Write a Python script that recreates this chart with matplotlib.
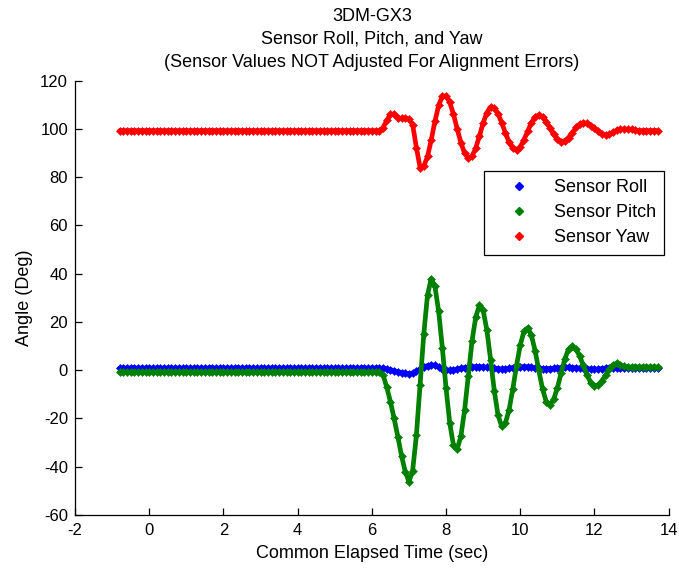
import numpy as np
import matplotlib
matplotlib.use("Agg")
import matplotlib.pyplot as plt

plt.rcParams['font.family'] = ['Liberation Sans', 'DejaVu Sans']
plt.rcParams['axes.unicode_minus'] = False

# Sample times (s), 10 Hz
time_sec = np.round(np.arange(-0.8, 13.71, 0.1), 1)
n_rest = int(np.sum(time_sec <= 6.2))

# Resting attitude before the disturbance (deg)
roll_rest = 0.9
pitch_rest = -0.8
yaw_rest = 99.3

# Attitude from 6.3 s to 13.7 s (deg)
roll_motion = [
    0.8, 0.5, 0.2, -0.2, -0.6, -1.0, -1.3,
    -1.4, -1.2, -0.5, 0.5, 1.3, 1.9, 2.2, 2.0, 1.3, 0.5,
    0.1, 0.0, 0.1, 0.4, 0.8, 1.1, 1.3, 1.4, 1.5, 1.5,
    1.4, 1.2, 1.0, 0.8, 0.6, 0.5, 0.6, 0.8, 1.1, 1.3,
    1.4, 1.5, 1.4, 1.2, 1.0, 0.8, 0.7, 0.6, 0.7, 0.8,
    1.0, 1.1, 1.2, 1.2, 1.1, 1.0, 0.9, 0.8, 0.7, 0.5,
    0.4, 0.5, 0.7, 0.9, 1.0, 1.0, 1.0, 0.9, 0.9, 0.9,
    0.9, 0.9, 0.9, 0.9, 0.9, 0.9, 0.9, 0.9,
]
pitch_motion = [
    -1.8, -7.0, -13.0, -20.0, -27.5, -35.5, -42.0,
    -46.2, -41.6, -27.0, -6.3, 15.0, 31.2, 37.9, 34.8, 24.4, 9.3,
    -7.5, -22.0, -31.1, -32.7, -27.3, -16.5, -2.3, 12.1, 22.1, 26.9,
    24.8, 16.6, 4.4, -8.5, -18.6, -23.3, -21.9, -16.3, -7.7, 2.0,
    10.5, 16.1, 17.5, 14.5, 8.1, -0.1, -7.8, -13.0, -14.3, -12.1,
    -7.3, -1.2, 4.6, 8.7, 10.0, 8.8, 5.9, 2.0, -2.0, -5.1,
    -6.5, -6.1, -4.4, -2.1, 0.5, 2.2, 2.9, 2.2, 1.6, 1.3,
    1.3, 1.3, 1.3, 1.3, 1.3, 1.3, 1.3, 1.3,
]
yaw_motion = [
    100.5, 103.5, 106.0, 106.2, 104.6, 104.4, 104.4,
    104.2, 101.7, 92.3, 84.0, 84.6, 88.6, 95.4, 103.1, 109.8, 113.6,
    113.7, 111.0, 106.1, 100.0, 94.3, 89.9, 87.9, 88.7, 92.1, 97.1,
    102.5, 106.8, 109.1, 108.7, 106.3, 102.6, 98.3, 94.5, 92.0, 91.3,
    92.6, 95.5, 99.1, 102.6, 105.0, 105.8, 105.0, 103.0, 100.4, 97.7,
    95.7, 94.7, 95.1, 96.4, 98.4, 100.6, 102.0, 102.6, 102.3, 101.4,
    100.2, 99.0, 98.0, 97.5, 97.8, 98.6, 99.4, 99.8, 99.9, 99.9,
    99.8, 99.5, 99.3, 99.3, 99.3, 99.3, 99.3, 99.3,
]

roll = np.array([roll_rest] * n_rest + roll_motion)
pitch = np.array([pitch_rest] * n_rest + pitch_motion)
yaw = np.array([yaw_rest] * n_rest + yaw_motion)

series = [
    ("Sensor Roll", roll, (0, 0, 1)),
    ("Sensor Pitch", pitch, (0, 0.5, 0)),
    ("Sensor Yaw", yaw, (1, 0, 0)),
]

fig = plt.figure(figsize=(6.79, 5.69), dpi=100)
ax = fig.add_axes([0.1105, 0.0949, 0.8743, 0.7633])

for label, values, color in series:
    ax.plot(time_sec, values, linestyle='-', linewidth=3.4, color=color,
            solid_capstyle='round', solid_joinstyle='round',
            marker='D', markersize=4.3, markeredgewidth=0.4,
            markeredgecolor=color, markerfacecolor=color, label=label)

ax.set_xlim(-2, 14)
ax.set_ylim(-60, 120)
ax.set_xticks(np.arange(-2, 15, 2))
ax.set_yticks(np.arange(-60, 121, 20))
ax.spines['top'].set_visible(False)
ax.spines['right'].set_visible(False)
for s in ('left', 'bottom'):
    ax.spines[s].set_linewidth(0.9)
ax.tick_params(direction='in', length=5, width=0.9, labelsize=12)
ax.tick_params(axis='x', pad=6)
ax.tick_params(axis='y', pad=5)

ax.set_xlabel("Common Elapsed Time (sec)", fontsize=13, labelpad=5)
ax.set_ylabel("Angle (Deg)", fontsize=13, labelpad=5)
ax.set_title("3DM-GX3\nSensor Roll, Pitch, and Yaw\n"
             "(Sensor Values NOT Adjusted For Alignment Errors)",
             fontsize=13, linespacing=1.45, pad=10)

handles = [plt.Line2D([], [], linestyle='none', marker='D', markersize=3.6,
                      color=c) for _, _, c in series]
leg = ax.legend(handles, [s[0] for s in series], loc='upper right',
                bbox_to_anchor=(0.992, 0.792), fontsize=13, frameon=True,
                fancybox=False, framealpha=1, edgecolor='black',
                handlelength=3.0, handletextpad=0.4, borderpad=0.45,
                labelspacing=0.45, borderaxespad=0)
leg.get_frame().set_linewidth(0.9)

fig.savefig("out.png", dpi=100)
